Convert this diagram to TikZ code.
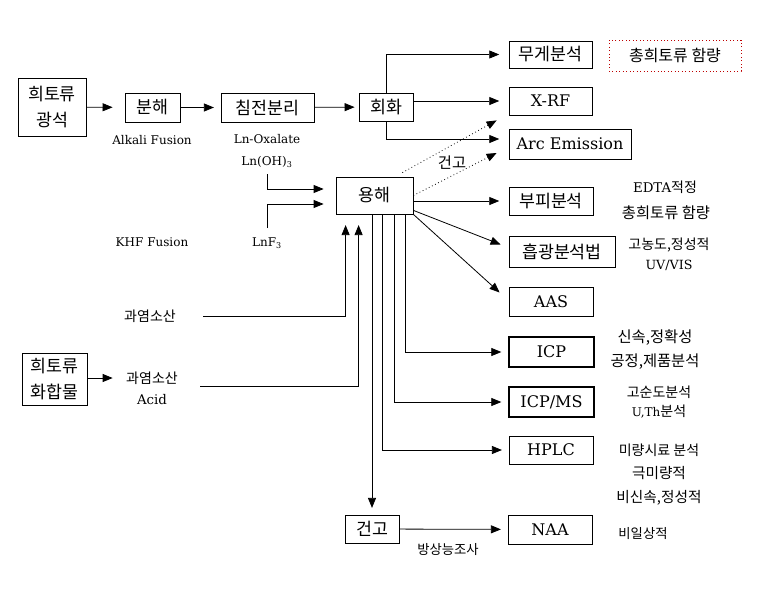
\documentclass[tikz,border=0pt]{standalone}
\usepackage{fontspec}
\setmainfont{DejaVu Serif}
\newfontfamily\kr{Noto Sans CJK KR}
\usetikzlibrary{arrows.meta,calc}

\begin{document}
\begin{tikzpicture}[x=0.75pt,y=-0.75pt,
    box/.style={draw,line width=0.6pt,inner sep=0pt,minimum height=21pt,align=center,font=\fontsize{12}{19}\selectfont},
    kbox/.style={box,font=\kr\fontsize{13}{19}\selectfont},
    thickbox/.style={line width=1.5pt},
    note/.style={draw=red!75!black,dotted,line width=0.6pt,inner sep=0pt,minimum width=99pt,minimum height=23.25pt,font=\kr\fontsize{12}{14}\selectfont},
    lbl/.style={inner sep=1pt,font=\fontsize{9}{11}\selectfont},
    klbl/.style={inner sep=1pt,font=\kr\fontsize{10.5}{12}\selectfont},
    kbig/.style={inner sep=1pt,font=\kr\fontsize{11.5}{13}\selectfont},
    arr/.style={-{Triangle[length=7.5pt,width=6pt]},line width=0.6pt,shorten >=5pt},
    dots/.style={arr,dotted,shorten >=0pt}]
  \useasboundingbox (0,0) rectangle (775,589);

  \node[kbox,minimum width=51pt,minimum height=43.5pt] (ore) at (52,107) {희토류\\광석};
  \node[kbox,minimum width=41.25pt,minimum height=21.75pt] (decomp) at (152.5,107.5) {분해};
  \node[kbox,minimum width=69.75pt,minimum height=21.75pt] (precip) at (267.5,107.5) {침전분리};
  \node[kbox,minimum width=40.5pt] (ash) at (386,107) {회화};
  \node[kbox,minimum width=62.25pt,minimum height=20.25pt] (grav) at (550.5,54.5) {무게분석};
  \node[note] (total) at (675,55.5) {총희토류 함량};
  \node[box,minimum width=62.25pt] (xrf) at (550.5,101) {X-RF};
  \node[box,minimum width=91.5pt,minimum height=22.5pt] (arc) at (570,144) {Arc Emission};
  \node[kbox,minimum width=57.75pt,minimum height=27.75pt] (diss) at (374.5,195.5) {용해};
  \node[kbox,minimum width=63pt] (vol) at (551,201) {부피분석};
  \node[kbox,minimum width=79.5pt,minimum height=23.25pt] (uvvis) at (562,251.5) {흡광분석법};
  \node[box,minimum width=63pt,minimum height=21.75pt] (aas) at (551,301.5) {AAS};
  \node[box,thickbox,minimum width=63.75pt,minimum height=22.5pt] (icp) at (551.5,352) {ICP};
  \node[box,thickbox,minimum width=63.75pt,minimum height=22.5pt] (icpms) at (551.5,402) {ICP/MS};
  \node[box,minimum width=63pt] (hplc) at (551,450) {HPLC};
  \node[box,minimum width=63pt,minimum height=21.75pt] (naa) at (550,529.5) {NAA};
  \node[kbox,minimum width=40.5pt] (dry) at (372,529) {건고};
  \node[kbox,minimum width=48.75pt,minimum height=39pt] (cmpd) at (54.5,379) {희토류\\화합물};

  % reagents and notes
  \node[lbl] (alkali) at (152,140) {Alkali Fusion};
  \node[lbl] (oxal) at (267,139) {Ln-Oxalate};
  \node[lbl] (hydrox) at (267,162) {Ln(OH)\textsubscript{3}};
  \node[lbl] (khf) at (152,242) {KHF Fusion};
  \node[lbl] (fluor) at (267,243) {LnF\textsubscript{3}};
  \node[klbl] (acid1) at (150,316) {과염소산};
  \node[klbl] (acid2) at (152,378) {과염소산};
  \node[lbl,font=\fontsize{10}{12}\selectfont] (acid3) at (152,400) {Acid};
  \node[kbig] (drylbl) at (452,163) {건고};
  \node[klbl] (edta) at (665,187) {{\rmfamily\fontsize{10}{12}\selectfont EDTA}적정};
  \node[kbig] (tot2) at (666,213) {총희토류 함량};
  \node[klbl] (conc) at (669,245) {고농도,정성적};
  \node[lbl,font=\fontsize{9.5}{11}\selectfont] (uvtxt) at (669,265) {UV/VIS};
  \node[kbig] (fast) at (655,338) {신속,정확성};
  \node[kbig] (proc) at (655,362) {공정,제품분석};
  \node[klbl] (purity) at (659,392) {고순도분석};
  \node[klbl] (uth) at (659,412) {{\rmfamily\fontsize{9}{11}\selectfont U,Th}분석};
  \node[klbl] (trace) at (659,450) {미량시료 분석};
  \node[klbl,font=\kr\fontsize{11}{12}\selectfont] (ultra) at (659,473) {극미량적};
  \node[klbl,font=\kr\fontsize{11}{12}\selectfont] (slow) at (659,498) {비신속,정성적};
  \node[klbl,font=\kr\fontsize{10}{12}\selectfont] (irreg) at (643,534) {비일상적};
  \node[klbl,font=\kr\fontsize{10}{12}\selectfont] (radio) at (448,550) {방상능조사};

  \coordinate (hcl1) at (203,316);
  \coordinate (hcl2) at (200,386);

  \draw[arr,shorten >=9pt] (ore) -- (decomp);
  \draw[arr] (decomp) -- (precip);
  \draw[arr,shorten >=3pt] (precip) -- (ash);
  \draw[arr,shorten >=7pt] (ash.north) |- (grav.west);
  \draw[arr,shorten >=7pt] (ash.east |- xrf.west) -- (xrf.west);
  \draw[arr,shorten >=7pt] (ash.south) |- ($(arc.west)+(0,-5)$);
  \draw[dots] ($(diss.north east)+(-11,-4)$) -- ($(xrf.south west)+(-12,5)$);
  \draw[dots] (diss.east) -- ($(arc.west)+(-12,9)$);
  \draw[arr,shorten >=7pt] (diss.east |- vol.west) -- (vol.west);
  \draw[arr,shorten >=0pt] ($(diss.south east)+(0,-4)$) -- ($(uvvis.west)+(-8,-7)$);
  \draw[arr,shorten >=0pt] (diss.south east) -- ($(aas.west)+(-9,-9)$);
  \draw[arr] ($(diss.south west)+(70,0)$) |- (icp.west);
  \draw[arr] ($(diss.south west)+(59,0)$) |- (icpms.west);
  \draw[arr] ($(diss.south west)+(47,0)$) |- (hplc.west);
  \draw[arr] (dry.north |- diss.south) -- (dry.north);
  \draw[arr,shorten >=9pt] ($(hydrox.south)+(0,5)$) |- (diss.west |- 0,189);
  \draw[arr,shorten >=9pt] ($(fluor.north)+(0,-8)$) |- (diss.west |- 0,204);
  \draw[arr,shorten >=8pt] (hcl1) -| ($(diss.south west)+(10,0)$);
  \draw[arr,shorten >=8pt] (hcl2) -| ($(diss.south west)+(23,0)$);
  \draw[arr,shorten >=9pt] (cmpd.east |- acid2) -- (acid2.west);
  \draw[arr] (dry) -- (naa);
\end{tikzpicture}
\end{document}
